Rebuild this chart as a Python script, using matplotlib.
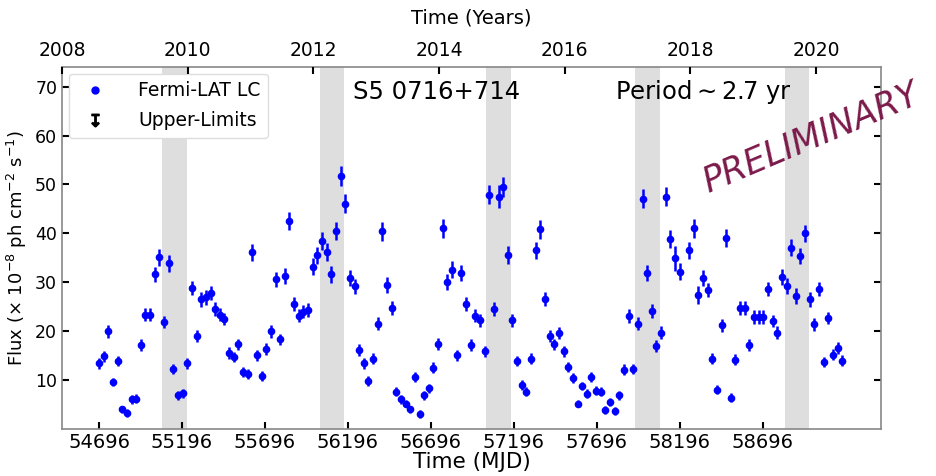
import numpy as np
import matplotlib
matplotlib.use("Agg")
import matplotlib.pyplot as plt
from matplotlib.lines import Line2D

# 28-day binned Fermi-LAT light curve of S5 0716+714
mjd = [54696, 54724, 54752, 54780, 54808, 54836, 54864, 54892, 54920, 54948,
       54976, 55004, 55032, 55060, 55088, 55116, 55144, 55172, 55200, 55228,
       55256, 55284, 55312, 55340, 55368, 55396, 55424, 55452, 55480, 55508,
       55536, 55564, 55592, 55620, 55648, 55676, 55704, 55732, 55760, 55788,
       55816, 55844, 55872, 55900, 55928, 55956, 55984, 56012, 56040, 56068,
       56096, 56124, 56152, 56180, 56208, 56236, 56264, 56292, 56320, 56348,
       56376, 56404, 56432, 56460, 56488, 56516, 56544, 56572, 56600, 56628,
       56656, 56684, 56712, 56740, 56768, 56796, 56824, 56852, 56880, 56908,
       56936, 56964, 56992, 57020, 57048, 57076, 57104, 57132, 57160, 57188,
       57216, 57244, 57272, 57300, 57328, 57356, 57384, 57412, 57440, 57468,
       57496, 57524, 57552, 57580, 57608, 57636, 57664, 57692, 57720, 57748,
       57776, 57804, 57832, 57860, 57888, 57916, 57944, 57972, 58000, 58028,
       58056, 58084, 58112, 58140, 58168, 58196, 58252, 58280, 58308,
       58336, 58364, 58392, 58420, 58448, 58476, 58504, 58532, 58560, 58588,
       58616, 58644, 58672, 58700, 58728, 58756, 58784, 58812, 58840, 58868,
       58896, 58924, 58952, 58980, 59008, 59036, 59064, 59092, 59120, 59148,
       59176]

flux = [13.4, 14.9, 20.0, 9.6, 13.9, 4.0, 3.2, 6.1, 6.2, 17.1,
        23.4, 23.4, 31.6, 35.1, 21.9, 33.9, 12.2, 6.9, 7.3, 13.4,
        28.8, 19.0, 26.5, 26.9, 27.8, 24.6, 23.4, 22.5, 15.6, 14.7,
        17.3, 11.6, 11.2, 36.1, 15.1, 10.8, 16.3, 20.0, 30.6, 18.3,
        31.3, 42.5, 25.6, 23.2, 24.0, 24.3, 33.2, 35.5, 38.4, 36.2,
        31.6, 40.5, 51.7, 46.1, 30.9, 29.2, 16.1, 13.4, 9.8, 14.4,
        21.5, 40.4, 29.4, 24.7, 7.6, 6.1, 5.2, 4.0, 10.6, 3.1,
        6.9, 8.3, 12.5, 17.4, 41.0, 30.1, 32.6, 15.1, 31.9, 25.5,
        17.2, 23.2, 22.2, 15.9, 47.9, 24.5, 47.5, 49.5, 35.6, 22.2,
        13.9, 9.0, 7.6, 14.4, 36.5, 40.8, 26.6, 19.0, 17.3, 19.6,
        15.9, 12.7, 10.4, 5.2, 8.8, 7.2, 10.6, 7.8, 7.6, 3.9,
        5.6, 3.7, 6.9, 12.1, 23.1, 12.2, 21.5, 47.1, 31.9, 24.1,
        16.9, 19.7, 47.5, 38.9, 34.9, 32.2, 36.5, 41.0, 27.4,
        30.9, 28.4, 14.4, 8.0, 21.2, 39.0, 6.4, 14.2, 24.8, 24.8,
        17.1, 22.9, 22.9, 22.9, 28.6, 22.1, 19.7, 31.1, 29.2, 37.1,
        27.2, 35.4, 40.0, 26.5, 21.4, 28.6, 13.7, 22.7, 15.2, 16.6,
        14.0]

flux_err = [1.1, 1.1, 1.3, 0.9, 1.1, 0.8, 0.8, 0.9, 0.9, 1.2,
            1.4, 1.4, 1.6, 1.7, 1.3, 1.7, 1.0, 0.9, 0.9, 1.1,
            1.5, 1.3, 1.5, 1.5, 1.5, 1.4, 1.4, 1.3, 1.2, 1.1,
            1.2, 1.0, 1.0, 1.8, 1.1, 1.0, 1.2, 1.3, 1.6, 1.2,
            1.6, 1.9, 1.4, 1.4, 1.4, 1.4, 1.7, 1.8, 1.8, 1.8,
            1.7, 1.9, 2.1, 2.0, 1.6, 1.5, 1.2, 1.1, 1.0, 1.1,
            1.3, 1.9, 1.6, 1.4, 0.9, 0.9, 0.8, 0.8, 1.0, 0.8,
            0.9, 0.9, 1.1, 1.2, 1.9, 1.6, 1.7, 1.1, 1.7, 1.4,
            1.2, 1.4, 1.3, 1.1, 2.0, 1.4, 2.3, 2.1, 1.8, 1.3,
            1.1, 1.0, 0.9, 1.1, 1.8, 1.9, 1.5, 1.3, 1.2, 1.3,
            1.1, 1.0, 1.0, 0.8, 0.9, 0.9, 1.0, 0.9, 0.9, 0.8,
            0.8, 0.8, 0.9, 1.1, 1.4, 1.0, 1.3, 2.0, 1.7, 1.4,
            1.2, 1.3, 2.0, 1.8, 2.5, 1.7, 1.8, 1.9, 1.9,
            1.6, 1.5, 1.1, 0.9, 1.3, 1.8, 0.9, 1.1, 1.4, 1.4,
            1.2, 1.4, 1.4, 1.4, 1.5, 1.3, 1.3, 1.6, 1.7, 1.8,
            1.6, 1.7, 1.8, 1.5, 1.3, 1.5, 1.1, 1.3, 1.1, 1.2,
            1.1]

# flare windows (MJD start, end), spaced by ~2.7 yr
span_start = [55078, 56028, 57027, 57929, 58833]
span_end = [55225, 56175, 57178, 58076, 58977]

mjd_ticks = [54696, 55196, 55696, 56196, 56696, 57196, 57696, 58196, 58696]
year_ticks = [2008, 2010, 2012, 2014, 2016, 2018, 2020]

fig = plt.figure(figsize=(9.37, 4.76), dpi=100)
ax = fig.add_axes([0.0662, 0.0987, 0.8738, 0.7605])

for s, e in zip(span_start, span_end):
    ax.axvspan(s, e, color="0.87", lw=0, zorder=0)

ax.errorbar(mjd, flux, yerr=flux_err, fmt="o", color="#0000ff", ms=4.5,
            elinewidth=1.8, capsize=0, zorder=3)

ax.set_xlim(54473, 59408)
ax.set_ylim(0, 74)
ax.set_xticks(mjd_ticks)
ax.set_xticklabels([str(t) for t in mjd_ticks], fontsize=14)
ax.set_yticks([10, 20, 30, 40, 50, 60, 70])
ax.tick_params(axis="y", labelsize=12.5, direction="in", right=True,
               length=5, width=1.5)
ax.tick_params(axis="x", direction="in", length=5, width=1.5, pad=3)
ax.set_xlabel("Time (MJD)", fontsize=15.5, labelpad=0)
ax.set_ylabel("Flux ($\\times$ 10$^{-8}$ ph cm$^{-2}$ s$^{-1}$)", fontsize=13)
for sp in ax.spines.values():
    sp.set_color("#888888")
    sp.set_linewidth(1.2)

# years on the top axis
ax2 = ax.twiny()
ax2.set_xlim(2008, 2021.03)
ax2.set_xticks(year_ticks)
ax2.set_xticklabels([str(y) for y in year_ticks], fontsize=13.5)
ax2.tick_params(axis="x", direction="in", length=5, width=1.5, pad=5)
ax2.set_xlabel("Time (Years)", fontsize=14, labelpad=13)
for sp in ax2.spines.values():
    sp.set_visible(False)

ax.text(0.457, 0.93, "S5 0716+714", transform=ax.transAxes, fontsize=17.5,
        ha="center", va="center")
ax.text(0.784, 0.93, "Period$\\sim$2.7 yr", transform=ax.transAxes,
        fontsize=17.5, ha="center", va="center")

handles = [Line2D([], [], ls="none", marker="o", color="#0000ff", ms=5),
           Line2D([], [], ls="none", marker="$\u21a7$", color="black", ms=9)]
leg = ax.legend(handles, ["Fermi-LAT LC", "Upper-Limits"], loc="upper left",
                fontsize=13.5, handletextpad=1.3, borderaxespad=0.35,
                labelspacing=0.6, framealpha=1, edgecolor="#dddddd")

fig.text(0.865, 0.71, "PRELIMINARY", rotation=23, rotation_mode="anchor",
         ha="center", va="center", fontsize=25, color="#7b1a4a",
         fontstyle="italic", fontweight="light")

fig.savefig("out.png", dpi=100)
